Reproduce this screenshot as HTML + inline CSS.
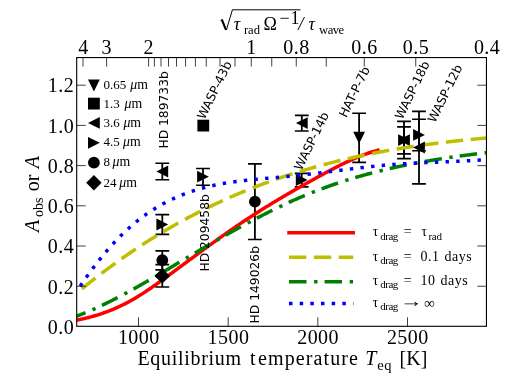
<!DOCTYPE html>
<html lang="en"><head><meta charset="utf-8"><title>Equilibrium temperature plot</title>
<style>html,body{margin:0;padding:0;background:#fff;overflow:hidden}svg{display:block}.s{font-family:"Liberation Serif", "DejaVu Serif", serif;fill:#000}.d{font-family:"DejaVu Sans", "Liberation Sans", sans-serif;fill:#000;font-size:12.3px}.i{font-style:italic}</style></head><body>
<svg width="512" height="384" viewBox="0 0 512 384">
<rect width="512" height="384" fill="#fff"/>
<defs><clipPath id="c"><rect x="76.7" y="57.55" width="409.75" height="268.75"/></clipPath></defs>
<g fill="none" stroke-width="3.5">
<path d="M289 232.8H353.2" stroke="#ff0000" stroke-linecap="square"/>
<path d="M289 257.25H353.2" stroke="#bfbf00" stroke-dasharray="17.3 7.6"/>
<path d="M289 281.7H353.2" stroke="#008000" stroke-dasharray="17.5 7.6 3.4 7.06"/>
<path d="M289 303.6H353.4" stroke="#0000ff" stroke-dasharray="3.5 7.165"/>
</g>
<g stroke="#000" stroke-width="1.8" fill="none">
<path d="M162.3 163.25V179.75"/>
<path d="M162.3 214.7V234.3"/>
<path d="M162.3 250.9V269.8"/>
<path d="M162.3 264.6V287"/>
<path d="M203.0 168.5V185.25"/>
<path d="M254.9 163.8V239.5"/>
<path d="M301.8 115.3V131"/>
<path d="M301.7 173.4V186.9"/>
<path d="M359.1 113.25V162.4"/>
<path d="M404 121.3V158.7"/>
<path d="M404 126.8V153.8"/>
<path d="M419 119.25V150.75"/>
<path d="M419 111.3V183.8"/>
</g>
<g fill="#000">
<path d="M155.4 163.25H169.20000000000002M155.4 179.75H169.20000000000002" stroke="#000" stroke-width="1.7" fill="none"/>
<path d="M168.20000000000002 165.6V177.4L156.4 171.5Z"/>
<path d="M155.4 214.7H169.20000000000002M155.4 234.3H169.20000000000002" stroke="#000" stroke-width="1.7" fill="none"/>
<path d="M156.4 218.6V230.4L168.20000000000002 224.5Z"/>
<path d="M155.4 250.9H169.20000000000002M155.4 269.8H169.20000000000002" stroke="#000" stroke-width="1.7" fill="none"/>
<circle cx="162.3" cy="260.2" r="5.9"/>
<rect x="197.4" y="119.69999999999999" width="11.8" height="11.8"/>
<path d="M196.1 168.5H209.9M196.1 185.25H209.9" stroke="#000" stroke-width="1.7" fill="none"/>
<path d="M197.1 170.79999999999998V182.6L208.9 176.7Z"/>
<path d="M248.0 163.8H261.8M248.0 239.5H261.8" stroke="#000" stroke-width="1.7" fill="none"/>
<circle cx="254.9" cy="201.6" r="5.9"/>
<path d="M294.90000000000003 115.3H308.7M294.90000000000003 131H308.7" stroke="#000" stroke-width="1.7" fill="none"/>
<path d="M307.7 117.19999999999999V129.0L295.90000000000003 123.1Z"/>
<path d="M294.8 173.4H308.59999999999997M294.8 186.9H308.59999999999997" stroke="#000" stroke-width="1.7" fill="none"/>
<path d="M295.8 174.1V185.9L307.59999999999997 180.0Z"/>
<path d="M352.20000000000005 113.25H366.0M352.20000000000005 162.4H366.0" stroke="#000" stroke-width="1.7" fill="none"/>
<path d="M353.20000000000005 131.85H365.0L359.1 143.65Z"/>
<path d="M397.1 121.3H410.9M397.1 158.7H410.9" stroke="#000" stroke-width="1.7" fill="none"/>
<path d="M409.9 134.2V146.0L398.1 140.1Z"/>
<path d="M397.1 126.8H410.9M397.1 153.8H410.9" stroke="#000" stroke-width="1.7" fill="none"/>
<path d="M398.1 134.2V146.0L409.9 140.1Z"/>
<path d="M412.1 119.25H425.9M412.1 150.75H425.9" stroke="#000" stroke-width="1.7" fill="none"/>
<path d="M413.1 129.0V140.8L424.9 134.9Z"/>
</g>
<g clip-path="url(#c)" fill="none">
<path d="M70.00 321.35 L70.78 321.22 L71.55 321.10 L72.33 320.97 L73.10 320.83 L73.88 320.69 L74.66 320.55 L75.43 320.41 L76.21 320.27 L76.98 320.12 L77.76 319.96 L78.54 319.81 L79.31 319.65 L80.09 319.49 L80.86 319.32 L81.64 319.15 L82.42 318.98 L83.19 318.81 L83.97 318.63 L84.74 318.45 L85.52 318.26 L86.29 318.07 L87.07 317.88 L87.85 317.69 L88.62 317.49 L89.40 317.29 L90.17 317.08 L90.95 316.87 L91.73 316.66 L92.50 316.44 L93.28 316.22 L94.05 316.00 L94.83 315.77 L95.61 315.54 L96.38 315.30 L97.16 315.06 L97.93 314.82 L98.71 314.57 L99.49 314.32 L100.26 314.07 L101.04 313.81 L101.81 313.55 L102.59 313.28 L103.37 313.01 L104.14 312.74 L104.92 312.46 L105.69 312.18 L106.47 311.89 L107.25 311.60 L108.02 311.31 L108.80 311.01 L109.57 310.70 L110.35 310.40 L111.12 310.08 L111.90 309.77 L112.68 309.45 L113.45 309.12 L114.23 308.80 L115.00 308.46 L115.78 308.12 L116.56 307.78 L117.33 307.44 L118.11 307.09 L118.88 306.73 L119.66 306.37 L120.44 306.01 L121.21 305.64 L121.99 305.26 L122.76 304.88 L123.54 304.50 L124.32 304.11 L125.09 303.72 L125.87 303.32 L126.64 302.92 L127.42 302.52 L128.20 302.10 L128.97 301.69 L129.75 301.27 L130.52 300.84 L131.30 300.41 L132.08 299.97 L132.85 299.53 L133.63 299.08 L134.40 298.63 L135.18 298.18 L135.95 297.72 L136.73 297.25 L137.51 296.78 L138.28 296.31 L139.06 295.83 L139.83 295.34 L140.61 294.85 L141.39 294.36 L142.16 293.87 L142.94 293.37 L143.71 292.86 L144.49 292.35 L145.27 291.84 L146.04 291.33 L146.82 290.81 L147.59 290.29 L148.37 289.77 L149.15 289.24 L149.92 288.71 L150.70 288.18 L151.47 287.64 L152.25 287.10 L153.03 286.56 L153.80 286.02 L154.58 285.47 L155.35 284.93 L156.13 284.38 L156.91 283.83 L157.68 283.27 L158.46 282.72 L159.23 282.16 L160.01 281.60 L160.78 281.04 L161.56 280.48 L162.34 279.92 L163.11 279.36 L163.89 278.79 L164.66 278.23 L165.44 277.67 L166.22 277.10 L166.99 276.53 L167.77 275.97 L168.54 275.40 L169.32 274.83 L170.10 274.26 L170.87 273.69 L171.65 273.13 L172.42 272.56 L173.20 271.99 L173.98 271.42 L174.75 270.85 L175.53 270.27 L176.30 269.70 L177.08 269.13 L177.86 268.56 L178.63 267.99 L179.41 267.42 L180.18 266.85 L180.96 266.27 L181.74 265.70 L182.51 265.13 L183.29 264.56 L184.06 263.98 L184.84 263.41 L185.62 262.84 L186.39 262.27 L187.17 261.69 L187.94 261.12 L188.72 260.55 L189.49 259.97 L190.27 259.40 L191.05 258.83 L191.82 258.26 L192.60 257.69 L193.37 257.11 L194.15 256.54 L194.93 255.97 L195.70 255.40 L196.48 254.83 L197.25 254.26 L198.03 253.69 L198.81 253.12 L199.58 252.55 L200.36 251.98 L201.13 251.41 L201.91 250.84 L202.69 250.27 L203.46 249.70 L204.24 249.14 L205.01 248.57 L205.79 248.00 L206.57 247.44 L207.34 246.87 L208.12 246.31 L208.89 245.74 L209.67 245.18 L210.45 244.61 L211.22 244.05 L212.00 243.49 L212.77 242.93 L213.55 242.37 L214.32 241.81 L215.10 241.25 L215.88 240.69 L216.65 240.13 L217.43 239.58 L218.20 239.02 L218.98 238.47 L219.76 237.91 L220.53 237.36 L221.31 236.81 L222.08 236.26 L222.86 235.70 L223.64 235.16 L224.41 234.61 L225.19 234.06 L225.96 233.51 L226.74 232.97 L227.52 232.42 L228.29 231.88 L229.07 231.34 L229.84 230.80 L230.62 230.26 L231.40 229.72 L232.17 229.18 L232.95 228.64 L233.72 228.11 L234.50 227.57 L235.28 227.04 L236.05 226.51 L236.83 225.98 L237.60 225.45 L238.38 224.92 L239.15 224.40 L239.93 223.87 L240.71 223.35 L241.48 222.83 L242.26 222.31 L243.03 221.79 L243.81 221.27 L244.59 220.75 L245.36 220.24 L246.14 219.73 L246.91 219.21 L247.69 218.70 L248.47 218.19 L249.24 217.69 L250.02 217.18 L250.79 216.68 L251.57 216.17 L252.35 215.67 L253.12 215.17 L253.90 214.67 L254.67 214.17 L255.45 213.68 L256.23 213.18 L257.00 212.69 L257.78 212.19 L258.55 211.70 L259.33 211.21 L260.11 210.72 L260.88 210.23 L261.66 209.75 L262.43 209.26 L263.21 208.78 L263.98 208.29 L264.76 207.81 L265.54 207.33 L266.31 206.85 L267.09 206.37 L267.86 205.90 L268.64 205.42 L269.42 204.94 L270.19 204.47 L270.97 204.00 L271.74 203.53 L272.52 203.06 L273.30 202.59 L274.07 202.12 L274.85 201.65 L275.62 201.18 L276.40 200.72 L277.18 200.25 L277.95 199.79 L278.73 199.33 L279.50 198.87 L280.28 198.40 L281.06 197.95 L281.83 197.49 L282.61 197.03 L283.38 196.57 L284.16 196.12 L284.94 195.66 L285.71 195.21 L286.49 194.75 L287.26 194.30 L288.04 193.85 L288.82 193.40 L289.59 192.95 L290.37 192.50 L291.14 192.05 L291.92 191.61 L292.69 191.16 L293.47 190.71 L294.25 190.27 L295.02 189.82 L295.80 189.38 L296.57 188.94 L297.35 188.50 L298.13 188.06 L298.90 187.62 L299.68 187.18 L300.45 186.74 L301.23 186.30 L302.01 185.86 L302.78 185.42 L303.56 184.99 L304.33 184.55 L305.11 184.12 L305.89 183.68 L306.66 183.25 L307.44 182.81 L308.21 182.38 L308.99 181.95 L309.77 181.52 L310.54 181.09 L311.32 180.66 L312.09 180.23 L312.87 179.80 L313.65 179.37 L314.42 178.94 L315.20 178.51 L315.97 178.08 L316.75 177.66 L317.52 177.23 L318.30 176.80 L319.08 176.38 L319.85 175.95 L320.63 175.53 L321.40 175.11 L322.18 174.68 L322.96 174.26 L323.73 173.84 L324.51 173.42 L325.28 173.00 L326.06 172.58 L326.84 172.16 L327.61 171.75 L328.39 171.33 L329.16 170.92 L329.94 170.51 L330.72 170.09 L331.49 169.69 L332.27 169.28 L333.04 168.87 L333.82 168.47 L334.60 168.06 L335.37 167.66 L336.15 167.26 L336.92 166.87 L337.70 166.47 L338.48 166.08 L339.25 165.69 L340.03 165.30 L340.80 164.91 L341.58 164.52 L342.35 164.14 L343.13 163.76 L343.91 163.39 L344.68 163.01 L345.46 162.64 L346.23 162.27 L347.01 161.90 L347.79 161.54 L348.56 161.18 L349.34 160.82 L350.11 160.47 L350.89 160.11 L351.67 159.76 L352.44 159.42 L353.22 159.08 L353.99 158.74 L354.77 158.40 L355.55 158.07 L356.32 157.74 L357.10 157.42 L357.87 157.09 L358.65 156.78 L359.43 156.46 L360.20 156.15 L360.98 155.84 L361.75 155.54 L362.53 155.24 L363.31 154.95 L364.08 154.66 L364.86 154.37 L365.63 154.09 L366.41 153.81 L367.18 153.54 L367.96 153.27 L368.74 153.01 L369.51 152.75 L370.29 152.49 L371.06 152.24 L371.84 152.00 L372.62 151.76 L373.39 151.52 L374.17 151.29 L374.94 151.07 L375.72 150.84 L376.50 150.63 L377.27 150.42 L378.05 150.21 L378.82 150.01 L379.60 149.82" stroke="#ff0000" stroke-width="3.5"/>
<path d="M81.90 288.86 L82.93 288.02 L83.96 287.19 L84.98 286.36 L86.01 285.53 L87.04 284.70 L88.07 283.88 L89.09 283.06 L90.12 282.24 L91.15 281.43 L92.18 280.62 L93.21 279.81 L94.23 279.01 L95.26 278.21 L96.29 277.41 L97.32 276.62 L98.35 275.82 L99.37 275.04 L100.40 274.25 L101.43 273.47 L102.46 272.69 L103.48 271.91 L104.51 271.14 L105.54 270.37 L106.57 269.60 L107.60 268.84 L108.62 268.07 L109.65 267.32 L110.68 266.56 L111.71 265.81 L112.73 265.06 L113.76 264.31 L114.79 263.57 L115.82 262.83 L116.85 262.09 L117.87 261.35 L118.90 260.62 L119.93 259.89 L120.96 259.17 L121.98 258.44 L123.01 257.72 L124.04 257.01 L125.07 256.29 L126.10 255.58 L127.12 254.87 L128.15 254.16 L129.18 253.46 L130.21 252.76 L131.24 252.06 L132.26 251.37 L133.29 250.68 L134.32 249.99 L135.35 249.30 L136.37 248.62 L137.40 247.94 L138.43 247.26 L139.46 246.59 L140.49 245.91 L141.51 245.24 L142.54 244.58 L143.57 243.91 L144.60 243.25 L145.62 242.59 L146.65 241.94 L147.68 241.29 L148.71 240.64 L149.74 239.99 L150.76 239.35 L151.79 238.70 L152.82 238.06 L153.85 237.43 L154.88 236.79 L155.90 236.16 L156.93 235.54 L157.96 234.91 L158.99 234.29 L160.01 233.67 L161.04 233.05 L162.07 232.43 L163.10 231.82 L164.13 231.21 L165.15 230.61 L166.18 230.00 L167.21 229.40 L168.24 228.80 L169.26 228.20 L170.29 227.61 L171.32 227.02 L172.35 226.43 L173.38 225.84 L174.40 225.26 L175.43 224.68 L176.46 224.10 L177.49 223.53 L178.52 222.95 L179.54 222.38 L180.57 221.81 L181.60 221.25 L182.63 220.68 L183.65 220.12 L184.68 219.57 L185.71 219.01 L186.74 218.46 L187.77 217.91 L188.79 217.36 L189.82 216.81 L190.85 216.27 L191.88 215.73 L192.90 215.19 L193.93 214.66 L194.96 214.12 L195.99 213.59 L197.02 213.07 L198.04 212.54 L199.07 212.02 L200.10 211.50 L201.13 210.98 L202.15 210.46 L203.18 209.95 L204.21 209.44 L205.24 208.93 L206.27 208.42 L207.29 207.92 L208.32 207.41 L209.35 206.91 L210.38 206.42 L211.41 205.92 L212.43 205.43 L213.46 204.94 L214.49 204.45 L215.52 203.97 L216.54 203.49 L217.57 203.00 L218.60 202.53 L219.63 202.05 L220.66 201.58 L221.68 201.11 L222.71 200.64 L223.74 200.17 L224.77 199.70 L225.79 199.24 L226.82 198.78 L227.85 198.32 L228.88 197.87 L229.91 197.42 L230.93 196.97 L231.96 196.52 L232.99 196.07 L234.02 195.63 L235.05 195.18 L236.07 194.74 L237.10 194.31 L238.13 193.87 L239.16 193.44 L240.18 193.01 L241.21 192.58 L242.24 192.15 L243.27 191.73 L244.30 191.30 L245.32 190.88 L246.35 190.46 L247.38 190.05 L248.41 189.63 L249.43 189.22 L250.46 188.81 L251.49 188.41 L252.52 188.00 L253.55 187.60 L254.57 187.20 L255.60 186.80 L256.63 186.40 L257.66 186.00 L258.68 185.61 L259.71 185.22 L260.74 184.83 L261.77 184.44 L262.80 184.06 L263.82 183.68 L264.85 183.30 L265.88 182.92 L266.91 182.54 L267.94 182.17 L268.96 181.79 L269.99 181.42 L271.02 181.05 L272.05 180.69 L273.07 180.32 L274.10 179.96 L275.13 179.60 L276.16 179.24 L277.19 178.88 L278.21 178.53 L279.24 178.18 L280.27 177.83 L281.30 177.48 L282.32 177.13 L283.35 176.78 L284.38 176.44 L285.41 176.10 L286.44 175.76 L287.46 175.42 L288.49 175.09 L289.52 174.75 L290.55 174.42 L291.58 174.09 L292.60 173.76 L293.63 173.44 L294.66 173.11 L295.69 172.79 L296.71 172.47 L297.74 172.15 L298.77 171.83 L299.80 171.52 L300.83 171.20 L301.85 170.89 L302.88 170.58 L303.91 170.27 L304.94 169.97 L305.96 169.66 L306.99 169.36 L308.02 169.06 L309.05 168.76 L310.08 168.46 L311.10 168.17 L312.13 167.87 L313.16 167.58 L314.19 167.29 L315.22 167.00 L316.24 166.71 L317.27 166.43 L318.30 166.14 L319.33 165.86 L320.35 165.58 L321.38 165.30 L322.41 165.03 L323.44 164.75 L324.47 164.48 L325.49 164.21 L326.52 163.94 L327.55 163.67 L328.58 163.40 L329.60 163.14 L330.63 162.87 L331.66 162.61 L332.69 162.35 L333.72 162.09 L334.74 161.83 L335.77 161.58 L336.80 161.32 L337.83 161.07 L338.85 160.82 L339.88 160.57 L340.91 160.32 L341.94 160.08 L342.97 159.83 L343.99 159.59 L345.02 159.35 L346.05 159.11 L347.08 158.87 L348.11 158.63 L349.13 158.40 L350.16 158.16 L351.19 157.93 L352.22 157.70 L353.24 157.47 L354.27 157.24 L355.30 157.01 L356.33 156.79 L357.36 156.57 L358.38 156.34 L359.41 156.12 L360.44 155.90 L361.47 155.69 L362.49 155.47 L363.52 155.25 L364.55 155.04 L365.58 154.83 L366.61 154.62 L367.63 154.41 L368.66 154.20 L369.69 153.99 L370.72 153.79 L371.75 153.59 L372.77 153.38 L373.80 153.18 L374.83 152.98 L375.86 152.79 L376.88 152.59 L377.91 152.39 L378.94 152.20 L379.97 152.01 L381.00 151.81 L382.02 151.62 L383.05 151.43 L384.08 151.25 L385.11 151.06 L386.13 150.88 L387.16 150.69 L388.19 150.51 L389.22 150.33 L390.25 150.15 L391.27 149.97 L392.30 149.79 L393.33 149.62 L394.36 149.44 L395.38 149.27 L396.41 149.09 L397.44 148.92 L398.47 148.75 L399.50 148.58 L400.52 148.42 L401.55 148.25 L402.58 148.08 L403.61 147.92 L404.64 147.76 L405.66 147.60 L406.69 147.44 L407.72 147.28 L408.75 147.12 L409.77 146.96 L410.80 146.80 L411.83 146.65 L412.86 146.50 L413.89 146.34 L414.91 146.19 L415.94 146.04 L416.97 145.89 L418.00 145.74 L419.02 145.60 L420.05 145.45 L421.08 145.31 L422.11 145.16 L423.14 145.02 L424.16 144.88 L425.19 144.74 L426.22 144.60 L427.25 144.46 L428.28 144.32 L429.30 144.18 L430.33 144.05 L431.36 143.91 L432.39 143.78 L433.41 143.65 L434.44 143.52 L435.47 143.39 L436.50 143.26 L437.53 143.13 L438.55 143.00 L439.58 142.87 L440.61 142.75 L441.64 142.62 L442.66 142.50 L443.69 142.38 L444.72 142.25 L445.75 142.13 L446.78 142.01 L447.80 141.89 L448.83 141.78 L449.86 141.66 L450.89 141.54 L451.92 141.43 L452.94 141.31 L453.97 141.20 L455.00 141.09 L456.03 140.97 L457.05 140.86 L458.08 140.75 L459.11 140.64 L460.14 140.53 L461.17 140.43 L462.19 140.32 L463.22 140.21 L464.25 140.11 L465.28 140.00 L466.30 139.90 L467.33 139.80 L468.36 139.69 L469.39 139.59 L470.42 139.49 L471.44 139.39 L472.47 139.29 L473.50 139.19 L474.53 139.10 L475.55 139.00 L476.58 138.90 L477.61 138.81 L478.64 138.71 L479.67 138.62 L480.69 138.53 L481.72 138.43 L482.75 138.34 L483.78 138.25 L484.81 138.16 L485.83 138.07 L486.86 137.98 L487.89 137.89 L488.92 137.81 L489.94 137.72 L490.97 137.63 L492.00 137.55" stroke="#bfbf00" stroke-width="3.5" stroke-dasharray="17.3 7.6"/>
<path d="M69.00 318.97 L70.06 318.60 L71.12 318.22 L72.18 317.85 L73.24 317.46 L74.30 317.08 L75.36 316.68 L76.42 316.28 L77.48 315.88 L78.54 315.47 L79.60 315.06 L80.66 314.65 L81.72 314.22 L82.78 313.80 L83.84 313.37 L84.90 312.93 L85.96 312.49 L87.02 312.05 L88.08 311.60 L89.14 311.15 L90.20 310.69 L91.26 310.23 L92.32 309.76 L93.38 309.29 L94.44 308.82 L95.50 308.34 L96.56 307.86 L97.62 307.38 L98.68 306.89 L99.74 306.40 L100.80 305.90 L101.86 305.40 L102.92 304.90 L103.98 304.39 L105.05 303.88 L106.11 303.36 L107.17 302.85 L108.23 302.32 L109.29 301.80 L110.35 301.27 L111.41 300.74 L112.47 300.21 L113.53 299.67 L114.59 299.13 L115.65 298.59 L116.71 298.04 L117.77 297.49 L118.83 296.94 L119.89 296.38 L120.95 295.83 L122.01 295.27 L123.07 294.70 L124.13 294.14 L125.19 293.57 L126.25 293.00 L127.31 292.42 L128.37 291.85 L129.43 291.27 L130.49 290.69 L131.55 290.11 L132.61 289.52 L133.67 288.94 L134.73 288.35 L135.79 287.75 L136.85 287.16 L137.91 286.57 L138.97 285.97 L140.03 285.37 L141.09 284.77 L142.15 284.17 L143.21 283.56 L144.27 282.96 L145.33 282.35 L146.39 281.74 L147.45 281.13 L148.51 280.52 L149.57 279.90 L150.63 279.29 L151.69 278.67 L152.75 278.05 L153.81 277.43 L154.87 276.81 L155.93 276.19 L156.99 275.57 L158.05 274.95 L159.11 274.32 L160.17 273.70 L161.23 273.07 L162.29 272.45 L163.35 271.82 L164.41 271.19 L165.47 270.56 L166.53 269.93 L167.59 269.30 L168.65 268.67 L169.71 268.04 L170.77 267.41 L171.83 266.78 L172.89 266.15 L173.95 265.51 L175.02 264.88 L176.08 264.25 L177.14 263.62 L178.20 262.98 L179.26 262.35 L180.32 261.72 L181.38 261.09 L182.44 260.45 L183.50 259.82 L184.56 259.19 L185.62 258.56 L186.68 257.92 L187.74 257.29 L188.80 256.66 L189.86 256.03 L190.92 255.40 L191.98 254.77 L193.04 254.15 L194.10 253.52 L195.16 252.89 L196.22 252.26 L197.28 251.64 L198.34 251.01 L199.40 250.39 L200.46 249.76 L201.52 249.14 L202.58 248.52 L203.64 247.89 L204.70 247.27 L205.76 246.65 L206.82 246.03 L207.88 245.41 L208.94 244.79 L210.00 244.18 L211.06 243.56 L212.12 242.95 L213.18 242.33 L214.24 241.72 L215.30 241.11 L216.36 240.50 L217.42 239.88 L218.48 239.28 L219.54 238.67 L220.60 238.06 L221.66 237.46 L222.72 236.85 L223.78 236.25 L224.84 235.65 L225.90 235.04 L226.96 234.44 L228.02 233.85 L229.08 233.25 L230.14 232.65 L231.20 232.06 L232.26 231.47 L233.32 230.88 L234.38 230.29 L235.44 229.70 L236.50 229.11 L237.56 228.52 L238.62 227.94 L239.68 227.36 L240.74 226.78 L241.80 226.20 L242.86 225.62 L243.92 225.04 L244.98 224.47 L246.05 223.90 L247.11 223.32 L248.17 222.75 L249.23 222.19 L250.29 221.62 L251.35 221.06 L252.41 220.49 L253.47 219.93 L254.53 219.38 L255.59 218.82 L256.65 218.26 L257.71 217.71 L258.77 217.16 L259.83 216.61 L260.89 216.07 L261.95 215.52 L263.01 214.98 L264.07 214.44 L265.13 213.90 L266.19 213.36 L267.25 212.83 L268.31 212.30 L269.37 211.77 L270.43 211.24 L271.49 210.71 L272.55 210.19 L273.61 209.67 L274.67 209.15 L275.73 208.63 L276.79 208.12 L277.85 207.61 L278.91 207.10 L279.97 206.59 L281.03 206.09 L282.09 205.59 L283.15 205.09 L284.21 204.59 L285.27 204.10 L286.33 203.60 L287.39 203.11 L288.45 202.63 L289.51 202.14 L290.57 201.66 L291.63 201.18 L292.69 200.71 L293.75 200.24 L294.81 199.77 L295.87 199.30 L296.93 198.83 L297.99 198.37 L299.05 197.91 L300.11 197.46 L301.17 197.00 L302.23 196.55 L303.29 196.10 L304.35 195.66 L305.41 195.22 L306.47 194.78 L307.53 194.34 L308.59 193.91 L309.65 193.48 L310.71 193.05 L311.77 192.63 L312.83 192.21 L313.89 191.79 L314.95 191.38 L316.02 190.97 L317.08 190.56 L318.14 190.15 L319.20 189.75 L320.26 189.34 L321.32 188.95 L322.38 188.55 L323.44 188.16 L324.50 187.77 L325.56 187.38 L326.62 187.00 L327.68 186.62 L328.74 186.24 L329.80 185.86 L330.86 185.49 L331.92 185.12 L332.98 184.75 L334.04 184.39 L335.10 184.02 L336.16 183.66 L337.22 183.31 L338.28 182.95 L339.34 182.60 L340.40 182.25 L341.46 181.90 L342.52 181.56 L343.58 181.22 L344.64 180.88 L345.70 180.54 L346.76 180.20 L347.82 179.87 L348.88 179.54 L349.94 179.22 L351.00 178.89 L352.06 178.57 L353.12 178.25 L354.18 177.93 L355.24 177.62 L356.30 177.30 L357.36 176.99 L358.42 176.69 L359.48 176.38 L360.54 176.08 L361.60 175.78 L362.66 175.48 L363.72 175.18 L364.78 174.89 L365.84 174.60 L366.90 174.31 L367.96 174.02 L369.02 173.73 L370.08 173.45 L371.14 173.17 L372.20 172.89 L373.26 172.61 L374.32 172.34 L375.38 172.07 L376.44 171.80 L377.50 171.53 L378.56 171.26 L379.62 171.00 L380.68 170.74 L381.74 170.48 L382.80 170.22 L383.86 169.96 L384.92 169.71 L385.98 169.46 L387.05 169.21 L388.11 168.96 L389.17 168.71 L390.23 168.47 L391.29 168.23 L392.35 167.99 L393.41 167.75 L394.47 167.51 L395.53 167.28 L396.59 167.05 L397.65 166.82 L398.71 166.59 L399.77 166.36 L400.83 166.14 L401.89 165.91 L402.95 165.69 L404.01 165.47 L405.07 165.25 L406.13 165.04 L407.19 164.82 L408.25 164.61 L409.31 164.40 L410.37 164.19 L411.43 163.98 L412.49 163.77 L413.55 163.57 L414.61 163.37 L415.67 163.16 L416.73 162.96 L417.79 162.77 L418.85 162.57 L419.91 162.37 L420.97 162.18 L422.03 161.99 L423.09 161.80 L424.15 161.61 L425.21 161.42 L426.27 161.24 L427.33 161.05 L428.39 160.87 L429.45 160.69 L430.51 160.51 L431.57 160.33 L432.63 160.15 L433.69 159.98 L434.75 159.80 L435.81 159.63 L436.87 159.46 L437.93 159.28 L438.99 159.12 L440.05 158.95 L441.11 158.78 L442.17 158.62 L443.23 158.45 L444.29 158.29 L445.35 158.13 L446.41 157.97 L447.47 157.81 L448.53 157.65 L449.59 157.49 L450.65 157.34 L451.71 157.18 L452.77 157.03 L453.83 156.88 L454.89 156.73 L455.95 156.58 L457.02 156.43 L458.08 156.28 L459.14 156.13 L460.20 155.99 L461.26 155.84 L462.32 155.70 L463.38 155.56 L464.44 155.42 L465.50 155.28 L466.56 155.14 L467.62 155.00 L468.68 154.86 L469.74 154.72 L470.80 154.59 L471.86 154.45 L472.92 154.32 L473.98 154.18 L475.04 154.05 L476.10 153.92 L477.16 153.79 L478.22 153.66 L479.28 153.53 L480.34 153.40 L481.40 153.28 L482.46 153.15 L483.52 153.02 L484.58 152.90 L485.64 152.77 L486.70 152.65 L487.76 152.53 L488.82 152.40 L489.88 152.28 L490.94 152.16 L492.00 152.04" stroke="#008000" stroke-width="3.5" stroke-dasharray="17.5 7.6 3.4 7.06" stroke-dashoffset="-0.1"/>
<path d="M79.95 286.46 L80.98 284.95 L82.02 283.44 L83.05 281.94 L84.08 280.46 L85.11 278.99 L86.15 277.53 L87.18 276.08 L88.21 274.65 L89.24 273.22 L90.28 271.81 L91.31 270.41 L92.34 269.02 L93.38 267.64 L94.41 266.28 L95.44 264.93 L96.47 263.59 L97.51 262.26 L98.54 260.95 L99.57 259.64 L100.60 258.35 L101.64 257.08 L102.67 255.81 L103.70 254.56 L104.73 253.32 L105.77 252.09 L106.80 250.88 L107.83 249.68 L108.87 248.49 L109.90 247.31 L110.93 246.15 L111.96 245.00 L113.00 243.86 L114.03 242.74 L115.06 241.63 L116.09 240.54 L117.13 239.45 L118.16 238.38 L119.19 237.33 L120.23 236.28 L121.26 235.26 L122.29 234.24 L123.32 233.24 L124.36 232.25 L125.39 231.27 L126.42 230.31 L127.45 229.36 L128.49 228.43 L129.52 227.51 L130.55 226.60 L131.59 225.70 L132.62 224.81 L133.65 223.94 L134.68 223.08 L135.72 222.23 L136.75 221.39 L137.78 220.57 L138.81 219.76 L139.85 218.96 L140.88 218.17 L141.91 217.39 L142.95 216.62 L143.98 215.87 L145.01 215.13 L146.04 214.39 L147.08 213.67 L148.11 212.96 L149.14 212.26 L150.17 211.57 L151.21 210.89 L152.24 210.22 L153.27 209.56 L154.30 208.91 L155.34 208.28 L156.37 207.65 L157.40 207.03 L158.44 206.42 L159.47 205.82 L160.50 205.23 L161.53 204.65 L162.57 204.08 L163.60 203.51 L164.63 202.96 L165.66 202.42 L166.70 201.88 L167.73 201.35 L168.76 200.83 L169.80 200.32 L170.83 199.82 L171.86 199.33 L172.89 198.84 L173.93 198.37 L174.96 197.90 L175.99 197.44 L177.02 196.99 L178.06 196.54 L179.09 196.10 L180.12 195.68 L181.16 195.25 L182.19 194.84 L183.22 194.43 L184.25 194.03 L185.29 193.64 L186.32 193.26 L187.35 192.88 L188.38 192.51 L189.42 192.15 L190.45 191.79 L191.48 191.44 L192.52 191.09 L193.55 190.76 L194.58 190.43 L195.61 190.10 L196.65 189.79 L197.68 189.47 L198.71 189.17 L199.74 188.87 L200.78 188.58 L201.81 188.29 L202.84 188.01 L203.87 187.73 L204.91 187.46 L205.94 187.20 L206.97 186.94 L208.01 186.68 L209.04 186.43 L210.07 186.19 L211.10 185.95 L212.14 185.72 L213.17 185.49 L214.20 185.27 L215.23 185.05 L216.27 184.83 L217.30 184.62 L218.33 184.42 L219.37 184.22 L220.40 184.02 L221.43 183.83 L222.46 183.64 L223.50 183.46 L224.53 183.28 L225.56 183.10 L226.59 182.93 L227.63 182.76 L228.66 182.60 L229.69 182.44 L230.73 182.28 L231.76 182.13 L232.79 181.97 L233.82 181.83 L234.86 181.68 L235.89 181.54 L236.92 181.40 L237.95 181.27 L238.99 181.13 L240.02 181.00 L241.05 180.88 L242.08 180.75 L243.12 180.63 L244.15 180.51 L245.18 180.39 L246.22 180.28 L247.25 180.16 L248.28 180.05 L249.31 179.94 L250.35 179.83 L251.38 179.73 L252.41 179.62 L253.44 179.52 L254.48 179.42 L255.51 179.32 L256.54 179.22 L257.58 179.12 L258.61 179.03 L259.64 178.93 L260.67 178.84 L261.71 178.75 L262.74 178.65 L263.77 178.56 L264.80 178.47 L265.84 178.38 L266.87 178.29 L267.90 178.20 L268.94 178.11 L269.97 178.02 L271.00 177.93 L272.03 177.85 L273.07 177.76 L274.10 177.67 L275.13 177.58 L276.16 177.49 L277.20 177.40 L278.23 177.31 L279.26 177.22 L280.30 177.13 L281.33 177.03 L282.36 176.94 L283.39 176.85 L284.43 176.75 L285.46 176.66 L286.49 176.56 L287.52 176.46 L288.56 176.36 L289.59 176.26 L290.62 176.16 L291.65 176.05 L292.69 175.95 L293.72 175.84 L294.75 175.74 L295.79 175.63 L296.82 175.52 L297.85 175.41 L298.88 175.29 L299.92 175.18 L300.95 175.07 L301.98 174.95 L303.01 174.84 L304.05 174.72 L305.08 174.60 L306.11 174.48 L307.15 174.36 L308.18 174.24 L309.21 174.12 L310.24 174.00 L311.28 173.88 L312.31 173.75 L313.34 173.63 L314.37 173.51 L315.41 173.38 L316.44 173.26 L317.47 173.13 L318.51 173.00 L319.54 172.88 L320.57 172.75 L321.60 172.62 L322.64 172.49 L323.67 172.36 L324.70 172.23 L325.73 172.10 L326.77 171.97 L327.80 171.85 L328.83 171.72 L329.87 171.58 L330.90 171.45 L331.93 171.32 L332.96 171.19 L334.00 171.06 L335.03 170.93 L336.06 170.80 L337.09 170.67 L338.13 170.54 L339.16 170.41 L340.19 170.28 L341.22 170.15 L342.26 170.02 L343.29 169.89 L344.32 169.76 L345.36 169.63 L346.39 169.50 L347.42 169.38 L348.45 169.25 L349.49 169.12 L350.52 168.99 L351.55 168.87 L352.58 168.74 L353.62 168.61 L354.65 168.49 L355.68 168.36 L356.72 168.24 L357.75 168.12 L358.78 167.99 L359.81 167.87 L360.85 167.75 L361.88 167.63 L362.91 167.51 L363.94 167.39 L364.98 167.28 L366.01 167.16 L367.04 167.04 L368.08 166.93 L369.11 166.81 L370.14 166.70 L371.17 166.59 L372.21 166.48 L373.24 166.37 L374.27 166.26 L375.30 166.15 L376.34 166.05 L377.37 165.94 L378.40 165.84 L379.43 165.73 L380.47 165.63 L381.50 165.53 L382.53 165.43 L383.57 165.34 L384.60 165.24 L385.63 165.15 L386.66 165.06 L387.70 164.96 L388.73 164.88 L389.76 164.79 L390.79 164.70 L391.83 164.62 L392.86 164.53 L393.89 164.45 L394.93 164.37 L395.96 164.30 L396.99 164.22 L398.02 164.15 L399.06 164.07 L400.09 164.00 L401.12 163.93 L402.15 163.86 L403.19 163.80 L404.22 163.73 L405.25 163.67 L406.29 163.61 L407.32 163.54 L408.35 163.48 L409.38 163.43 L410.42 163.37 L411.45 163.31 L412.48 163.26 L413.51 163.20 L414.55 163.15 L415.58 163.10 L416.61 163.05 L417.65 163.00 L418.68 162.95 L419.71 162.90 L420.74 162.85 L421.78 162.80 L422.81 162.76 L423.84 162.71 L424.87 162.67 L425.91 162.62 L426.94 162.58 L427.97 162.53 L429.00 162.49 L430.04 162.45 L431.07 162.41 L432.10 162.36 L433.14 162.32 L434.17 162.28 L435.20 162.24 L436.23 162.20 L437.27 162.16 L438.30 162.12 L439.33 162.08 L440.36 162.04 L441.40 161.99 L442.43 161.95 L443.46 161.91 L444.50 161.87 L445.53 161.83 L446.56 161.79 L447.59 161.75 L448.63 161.71 L449.66 161.66 L450.69 161.62 L451.72 161.58 L452.76 161.53 L453.79 161.49 L454.82 161.45 L455.86 161.40 L456.89 161.36 L457.92 161.31 L458.95 161.26 L459.99 161.21 L461.02 161.17 L462.05 161.12 L463.08 161.07 L464.12 161.01 L465.15 160.96 L466.18 160.91 L467.22 160.85 L468.25 160.80 L469.28 160.74 L470.31 160.68 L471.35 160.63 L472.38 160.57 L473.41 160.51 L474.44 160.44 L475.48 160.38 L476.51 160.31 L477.54 160.25 L478.57 160.18 L479.61 160.11 L480.64 160.04 L481.67 159.97 L482.71 159.89 L483.74 159.81 L484.77 159.74 L485.80 159.66 L486.84 159.58 L487.87 159.49 L488.90 159.41 L489.93 159.32 L490.97 159.23 L492.00 159.14" stroke="#0000ff" stroke-width="3.5" stroke-dasharray="3.4 7.265" stroke-dashoffset="-0.38"/>
</g>
<g fill="#000">
<path d="M155.4 264.6H169.20000000000002M155.4 287H169.20000000000002" stroke="#000" stroke-width="1.7" fill="none"/>
<path d="M154.60000000000002 275.9L162.3 268.2L170.0 275.9L162.3 283.59999999999997Z"/>
<path d="M412.1 111.3H425.9M412.1 183.8H425.9" stroke="#000" stroke-width="1.7" fill="none"/>
<path d="M424.9 141.6V153.4L413.1 147.5Z"/>
</g>
<g fill="#000">
<path d="M88.0 79.6H99.80000000000001L93.9 91.4Z"/>
<rect x="88.0" y="97.69999999999999" width="11.8" height="11.8"/>
<path d="M99.80000000000001 117.0V128.8L88.0 122.9Z"/>
<path d="M88.0 136.9V148.70000000000002L99.80000000000001 142.8Z"/>
<circle cx="93.9" cy="162.7" r="5.9"/>
<path d="M86.2 182.8L93.9 175.10000000000002L101.60000000000001 182.8L93.9 190.5Z"/>
</g>
<g class="s" font-size="13px">
<text x="103.6" y="88.9">0.65</text><text x="130.3" y="88.9" font-size="13.8px"><tspan class="i">μ</tspan>m</text>
<text x="103.6" y="107.6">1.3</text><text x="124.5" y="107.6" font-size="13.8px"><tspan class="i">μ</tspan>m</text>
<text x="103.6" y="126.7">3.6</text><text x="123.4" y="126.7" font-size="13.8px"><tspan class="i">μ</tspan>m</text>
<text x="103.6" y="146.4">4.5</text><text x="123.0" y="146.4" font-size="13.8px"><tspan class="i">μ</tspan>m</text>
<text x="103.6" y="166.4">8</text><text x="112.6" y="166.4" font-size="13.8px"><tspan class="i">μ</tspan>m</text>
<text x="103.6" y="186.7">24</text><text x="119.3" y="186.7" font-size="13.8px"><tspan class="i">μ</tspan>m</text>
</g>
<rect x="76.7" y="57.55" width="409.75" height="268.75" fill="none" stroke="#000" stroke-width="1.1"/>
<path d="M76.7 286.24h9M486.45 286.24h-9M76.7 246.03h9M486.45 246.03h-9M76.7 205.82h9M486.45 205.82h-9M76.7 165.61h9M486.45 165.61h-9M76.7 125.40h9M486.45 125.40h-9M76.7 85.19h9M486.45 85.19h-9M138.50 326.3v-9M228.16 326.3v-9M317.83 326.3v-9M407.50 326.3v-9M83 57.55v9M106.6 57.55v9M148.6 57.55v9M154.4 57.55v9M161 57.55v9M168.5 57.55v9M176.5 57.55v9M185.6 57.55v9M195.4 57.55v9M206.25 57.55v9M220 57.55v9M235 57.55v9M251.25 57.55v9M271.75 57.55v9M296.25 57.55v9M326.25 57.55v9M364.25 57.55v9M415.75 57.55v9" stroke="#000" stroke-width="0.75" fill="none"/>
<g class="s" font-size="20px" text-anchor="end" letter-spacing="0.5">
<text x="74.2" y="333.75">0.0</text>
<text x="74.2" y="293.54">0.2</text>
<text x="74.2" y="253.33">0.4</text>
<text x="74.2" y="213.12">0.6</text>
<text x="74.2" y="172.91">0.8</text>
<text x="74.2" y="132.70">1.0</text>
<text x="74.2" y="92.49">1.2</text>
</g>
<g class="s" font-size="20px" text-anchor="middle" letter-spacing="0.45">
<text x="138.80" y="343.7">1000</text>
<text x="228.47" y="343.7">1500</text>
<text x="318.13" y="343.7">2000</text>
<text x="407.80" y="343.7">2500</text>
<text x="83.6" y="54">4</text>
<text x="106.8" y="54">3</text>
<text x="148.8" y="54">2</text>
<text x="251.4" y="54">1</text>
<text x="296.5" y="54">0.8</text>
<text x="364.5" y="54">0.6</text>
<text x="416" y="54">0.5</text>
<text x="487.1" y="54">0.4</text>
</g>
<g class="s" font-size="20px">
<text x="137.4" y="364.75" textLength="103.6" lengthAdjust="spacing">Equilibrium</text><text x="250" y="364.75">t</text><text x="258.1" y="364.75" textLength="99.9" lengthAdjust="spacing">emperature</text>
<text x="365.3" y="364.75" class="i">T</text><text x="377.3" y="369.5" font-size="14.5px" letter-spacing="0.5">eq</text><text x="399.6" y="364.75">[K]</text>
<g transform="translate(39 233) rotate(-90)"><text x="1" y="0" class="i">A</text><text x="16" y="4.3" font-size="14px">obs</text><text x="41.7" y="0">or</text><text x="64.7" y="0" class="i">A</text></g>
</g>
<g class="s" font-size="18px">
<path d="M220.6 20.6l1.9-1l3.9 10.4l6-20.2H300.4" fill="none" stroke="#000" stroke-width="1"/>
<path d="M221.6 19.6l4.3 10.4" fill="none" stroke="#000" stroke-width="1.8"/>
<text x="233.8" y="29.8" class="i">τ</text><text x="243.9" y="33.5" font-size="12.6px">rad</text><text x="263.4" y="29.8">Ω</text>
<text x="279.4" y="23.5">−</text><text x="290.6" y="23.5">1</text><text x="298.2" y="29.8" class="i" font-size="19px">/</text><text x="308.6" y="29.8" class="i">τ</text><text x="319.1" y="33.5" font-size="12.6px" letter-spacing="-0.5">wave</text>
</g>
<g class="s" font-size="14px">
<text x="372.8" y="236.25" font-size="13.6px">τ</text><text x="380.3" y="239.55" font-size="11px" letter-spacing="-0.5">drag</text>
<text x="403.75" y="236.25">=</text>
<text x="421.5" y="236.25" font-size="13.6px">τ</text><text x="428.5" y="239.55" font-size="11px" letter-spacing="-0.3">rad</text>
<text x="372.8" y="260.75" font-size="13.6px">τ</text><text x="380.3" y="264.05" font-size="11px" letter-spacing="-0.5">drag</text>
<text x="403.75" y="260.75">=</text>
<text x="420.5" y="260.75" letter-spacing="0.5" word-spacing="1">0.1 days</text>
<text x="372.8" y="285" font-size="13.6px">τ</text><text x="380.3" y="288.3" font-size="11px" letter-spacing="-0.5">drag</text>
<text x="403.75" y="285">=</text>
<text x="420.5" y="285" letter-spacing="0.5" word-spacing="1">10 days</text>
<text x="372.8" y="307" font-size="13.6px">τ</text><text x="380.3" y="310.3" font-size="11px" letter-spacing="-0.5">drag</text>
<text transform="translate(399.7 307.4) scale(1.62 1.3)">→</text><text x="424.2" y="307.7" font-size="15px">∞</text>
</g>
<text class="d" transform="translate(167.6 148.6) rotate(-90)">HD 189733b</text>
<text class="d" transform="translate(208.6 271.6) rotate(-90)">HD 209458b</text>
<text class="d" transform="translate(259 323.4) rotate(-90)">HD 149026b</text>
<text class="d" font-size="12px" text-anchor="middle" transform="translate(214.4 90.1) rotate(-64)" y="4.4">WASP-43b</text>
<text class="d" font-size="12px" text-anchor="middle" transform="translate(311.35 141.05) rotate(-64)" y="4.4">WASP-14b</text>
<text class="d" font-size="11.7px" text-anchor="middle" transform="translate(354.25 91.8) rotate(-64)" y="4.4">HAT-P-7b</text>
<text class="d" font-size="12px" text-anchor="middle" transform="translate(412.15 90.1) rotate(-64)" y="4.4">WASP-18b</text>
<text class="d" font-size="12px" text-anchor="middle" transform="translate(444.9 93.4) rotate(-64)" y="4.4">WASP-12b</text>
</svg></body></html>
